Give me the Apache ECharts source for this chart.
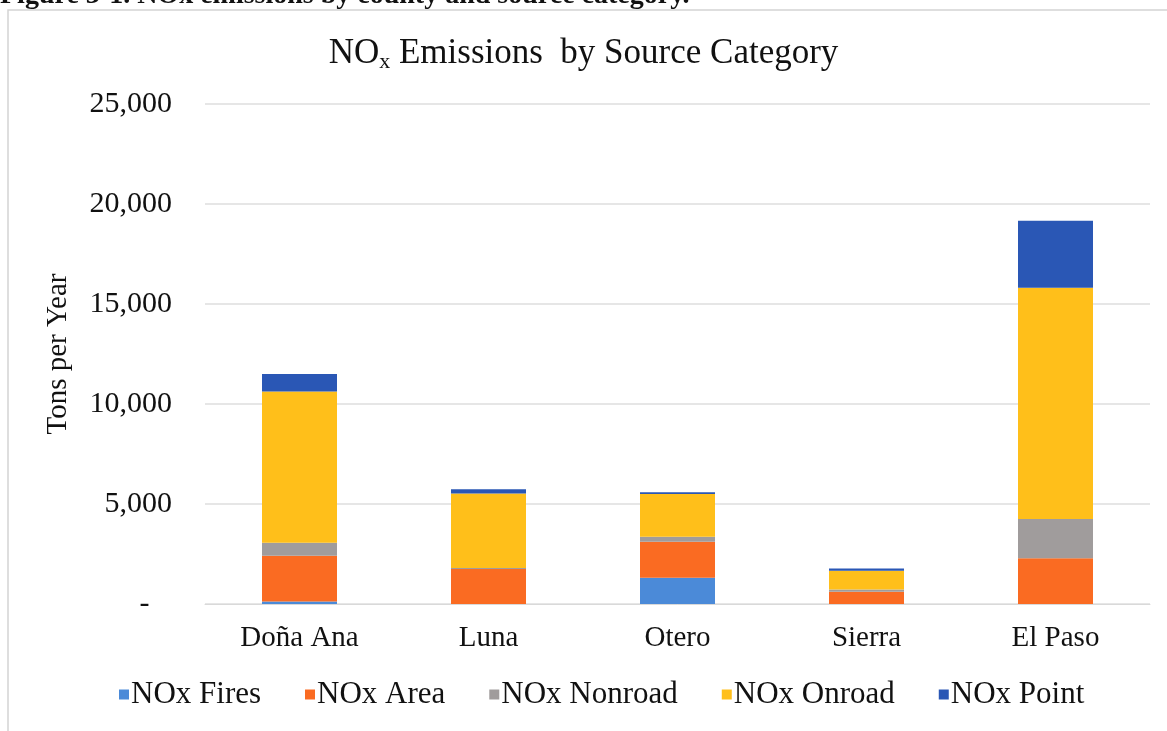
<!DOCTYPE html>
<html>
<head>
<meta charset="utf-8">
<script src="https://cdn.jsdelivr.net/npm/echarts@6/dist/echarts.min.js"></script>
<style>
  html, body { margin: 0; padding: 0; background: #fff; }
  #main { width: 1167px; height: 731px; }
</style>
</head>
<body>
<div id="main"></div>
<script>
// counties
const counties = ['Doña Ana', 'Luna', 'Otero', 'Sierra', 'El Paso'];
// tons per year
const fires   = [120, 0, 1310, 0, 0];
const area    = [2290, 1750, 1800, 610, 2290];
const nonroad = [650, 50, 250, 120, 1960];
const onroad  = [7560, 3730, 2140, 930, 11560];
const point   = [880, 210, 90, 120, 3350];
const yTicks = [0, 5000, 10000, 15000, 20000, 25000];

const serif = '"Liberation Serif", "DejaVu Serif", serif';
let myChart = echarts.init(document.getElementById('main'));

function bar(name, data, color) {
  return {
    name: name,
    type: 'bar',
    stack: 'total',
    data: data,
    barWidth: 75,
    itemStyle: { color: color }
  };
}

let option = {
  backgroundColor: '#fff',
  animation: false,
  textStyle: { fontFamily: serif },
  graphic: [
    {
      type: 'text',
      left: 0,
      top: -18,
      style: {
        text: 'Figure 3-1. NOx emissions by county and source category.',
        font: 'bold 28px ' + serif,
        fill: '#111'
      }
    },
    {
      type: 'rect',
      shape: { x: 8, y: 10, width: 1200, height: 800 },
      style: { fill: 'none', stroke: '#d4d4d4', lineWidth: 1.5 }
    }
  ],
  title: {
    text: '{a|NO}{s|x}{a| Emissions  by Source Category}',
    left: 'center',
    top: 30,
    textStyle: {
      rich: {
        a: { fontSize: 35, color: '#111', fontFamily: serif, fontWeight: 'normal' },
        s: { fontSize: 22, color: '#111', fontFamily: serif, fontWeight: 'normal', padding: [16, 0, 0, 0] }
      }
    }
  },
  legend: {
    bottom: 16,
    left: 114,
    itemWidth: 10,
    itemHeight: 10,
    itemGap: 44,
    icon: 'rect',
    textStyle: { fontSize: 31, color: '#111', fontFamily: serif, padding: [0, 0, 0, -3] }
  },
  grid: { left: 205, right: 17, top: 104, bottom: 127 },
  xAxis: {
    type: 'category',
    data: counties,
    axisLine: { lineStyle: { color: '#d9d9d9' } },
    axisTick: { show: false },
    axisLabel: { fontSize: 29, color: '#111', margin: 20, fontFamily: serif }
  },
  yAxis: {
    type: 'value',
    min: yTicks[0],
    max: yTicks[yTicks.length - 1],
    interval: 5000,
    name: 'Tons per Year',
    nameLocation: 'middle',
    nameGap: 132,
    nameTextStyle: { fontSize: 29, color: '#111', fontFamily: serif },
    axisLine: { show: false },
    axisTick: { show: false },
    splitLine: { lineStyle: { color: '#dedede', width: 1.5 } },
    axisLabel: {
      fontSize: 30,
      color: '#111',
      margin: 33,
      fontFamily: serif,
      formatter: function (v) {
        return v === 0 ? '-   ' : v.toLocaleString('en-US');
      }
    }
  },
  series: [
    bar('NOx Fires', fires, '#4b8ad8'),
    bar('NOx Area', area, '#fa6b22'),
    bar('NOx Nonroad', nonroad, '#a09c9c'),
    bar('NOx Onroad', onroad, '#ffbf1a'),
    bar('NOx Point', point, '#2a57b5')
  ]
};

myChart.setOption(option);
</script>
</body>
</html>
